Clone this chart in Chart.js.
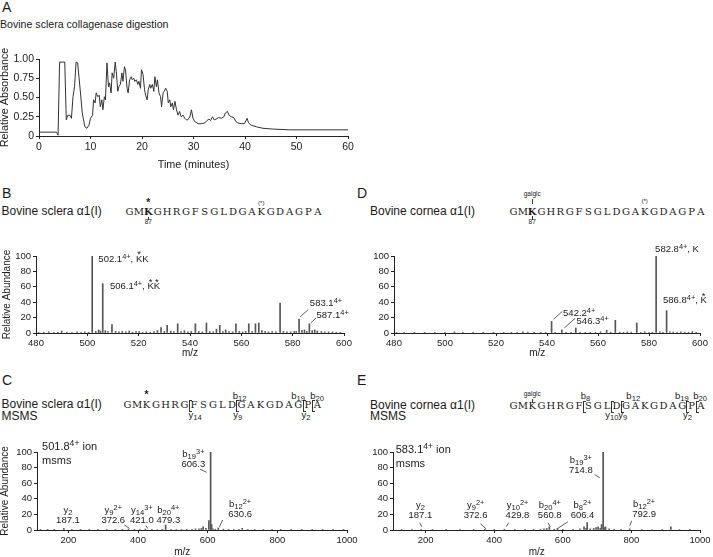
<!DOCTYPE html>
<html>
<head>
<meta charset="utf-8">
<script src="https://cdn.jsdelivr.net/npm/chart.js@4.4.1/dist/chart.umd.min.js"></script>
<style>
  body { margin: 0; width: 713px; height: 557px; position: relative; overflow: hidden; background: #fff;
         font-family: "Liberation Sans", Arial, sans-serif; color: #1a1a1a; }
  canvas { position: absolute; }
  .t { position: absolute; white-space: nowrap; line-height: 1; }
  .t sup { font-size: 0.78em; vertical-align: 0.42em; line-height: 0; }
  .t sub { font-size: 0.8em; vertical-align: -0.24em; line-height: 0; }
  .st { position: relative; display: inline-block; }
  .st::before { content: '*'; position: absolute; left: 0; right: 0; text-align: center; top: -0.45em; }
  .brk { position: absolute; width: 2px; border: 1px solid #333; border-right: none; }
  .tick { position: absolute; width: 0; border-left: 1px solid #333; }
</style>
</head>
<body>
<script>
// --- A: chromatogram (time in minutes, relative absorbance)
const timeMin = [0, 3.4, 3.7, 4.0, 5.0, 5.3, 5.6, 6.0, 6.3, 6.6, 6.9, 7.2, 7.5, 8.0, 8.4, 8.9, 9.3, 9.7,
  10.0, 10.4, 10.6, 10.9, 11.1, 11.4, 11.7, 11.9, 12.2, 12.4, 12.7, 12.9, 13.2, 13.5, 13.7, 14.0, 14.2,
  14.5, 14.8, 15.0, 15.3, 15.5, 15.8, 16.1, 16.3, 16.6, 16.8, 17.1, 17.3, 17.6, 17.9, 18.1, 18.4, 18.6,
  18.9, 19.2, 19.4, 19.7, 19.9, 20.2, 20.5, 20.7, 21.0, 21.2, 21.5, 21.7, 22.0, 22.3, 22.5, 22.8, 23.0,
  23.3, 23.6, 23.8, 24.1, 24.3, 24.6, 24.9, 25.1, 25.4, 25.6, 25.9, 26.1, 26.4, 26.7, 27.0, 27.3, 27.6,
  28.0, 28.3, 28.6, 28.9, 29.3, 29.6, 29.9, 30.2, 30.9, 31.5, 32.2, 32.6, 33.0, 33.3, 33.7, 34.0, 34.4,
  34.9, 35.4, 35.9, 36.2, 36.6, 36.9, 37.3, 37.8, 38.2, 38.6, 39.3, 39.9, 40.4, 40.7, 41.2, 42.2, 43.5,
  45.4, 48.7, 60];
const absorb = [0.05, 0.05, 0.01, 0.96, 0.96, 0.21, 0.27, 0.27, 0.23, 0.51, 0.64, 0.96, 0.95, 0.60, 0.30, 0.12, 0.10, 0.14,
  0.23, 0.27, 0.47, 0.43, 0.56, 0.51, 0.53, 0.38, 0.47, 0.34, 0.51, 0.47, 0.95, 0.64, 0.69, 0.56, 0.82,
  0.75, 0.96, 0.84, 0.58, 0.64, 0.67, 0.82, 0.71, 0.90, 0.86, 0.62, 0.56, 0.73, 0.77, 0.73, 0.75, 0.71,
  0.73, 0.67, 0.71, 0.62, 0.86, 0.80, 0.60, 0.53, 0.47, 0.60, 0.67, 0.62, 0.67, 0.58, 0.77, 0.64, 0.73,
  0.56, 0.51, 0.38, 0.56, 0.58, 0.62, 0.58, 0.43, 0.47, 0.38, 0.43, 0.34, 0.45, 0.34, 0.27, 0.32, 0.25,
  0.27, 0.23, 0.21, 0.21, 0.25, 0.34, 0.23, 0.19, 0.16, 0.16, 0.17, 0.20, 0.22, 0.20, 0.25, 0.21, 0.22,
  0.24, 0.23, 0.25, 0.30, 0.32, 0.27, 0.25, 0.24, 0.19, 0.17, 0.16, 0.16, 0.23, 0.17, 0.14, 0.12, 0.10,
  0.09, 0.08, 0.08];
const absTicks = [0, 0.25, 0.5, 0.75, 1];

// --- B: sclera MS spectrum
const bMz = [481, 483, 485, 487, 488.5, 490, 492, 494, 496, 497.5, 499, 500.5, 501.9, 503.3, 504.4, 505.1, 506.0, 507,
  508, 509.6, 511, 512.3, 513.6, 515, 516.3, 517.6, 519, 520.2, 521.5, 523, 524.5, 526, 527.3, 528.7, 530,
  531.1, 532.5, 533.7, 535.2, 536.5, 537.8, 539.2, 540.5, 542.1, 543.4, 544.8, 546.4, 547.7, 549, 550.3,
  551.6, 552.8, 553.9, 555.2, 556.6, 557.9, 559.2, 560.5, 561.7, 562.9, 564.2, 565.5, 566.8, 568, 569.3,
  570.6, 572, 573.5, 575.1, 576.4, 577.8, 579.2, 580.6, 581.4, 582.5, 583.6, 584.6, 585.5, 586.5, 587.6,
  588.6, 589.6, 591.2, 592.5, 594, 595.5, 597, 598.5];
const bInt = [1, 1, 1.5, 1, 1, 2.5, 1, 1, 1.5, 1, 1.5, 1, 100, 2, 4, 2.5, 64, 3,
  2, 11, 2, 1.5, 2, 1.5, 2.5, 1, 2, 2, 1, 1.5, 1, 2, 3, 7, 2,
  10, 2.5, 2, 12, 2, 3, 1.5, 2, 12, 2, 1.5, 13, 2, 1.5, 5,
  10, 2, 4, 2, 1.5, 12, 2, 1.5, 2, 12, 2, 12, 13, 3, 2,
  1.5, 2, 1.5, 39, 2, 1.5, 1.5, 2, 2, 18, 3, 4, 2, 12, 3,
  4, 2.5, 2, 1.5, 1.5, 1.5, 1, 1];

// --- D: cornea MS spectrum
const dMz = [481, 484, 488, 492, 496, 500, 503.7, 507, 511, 515, 519, 523, 526, 528.3, 530.5, 532.5, 535, 537.5,
  539.5, 541.8, 543.2, 545.8, 547.5, 549.5, 551.3, 553, 555, 557, 559, 561, 563.4, 565, 566.8, 568.5,
  570, 571.5, 573, 575.2, 576.8, 578.3, 580, 581.3, 582.8, 584.3, 585.5, 586.9, 588.2, 589.5, 591,
  592.5, 594, 595.5, 597, 598.5];
const dInt = [0.5, 0.5, 0.5, 0.5, 0.5, 1, 1.5, 0.5, 0.5, 0.5, 0.5, 0.5, 0.5, 1, 1.5, 1.2, 1, 0.8,
  0.8, 15, 1, 4, 1, 0.8, 6.5, 1, 0.8, 1, 1, 1.5, 3.5, 1, 16.5, 1,
  1, 1.5, 1.2, 13, 1, 1.5, 1, 1, 100, 1.5, 1, 29, 1.5, 1.2, 1,
  1.5, 1.2, 1, 2, 1];

// --- C: sclera MSMS of 501.8 (4+)
const cMz = [120, 140, 160, 187.1, 210, 235, 260, 285, 310, 335, 355, 372.6, 390, 405, 421, 440, 455, 470,
  479.3, 495, 510, 525, 540, 555, 565, 575, 582, 587, 595, 603.5, 608.5, 611.5, 615, 622, 630.6, 645,
  660, 675, 690, 699, 715, 735, 760, 785, 810, 840, 870, 900, 930, 960, 990];
const cInt = [0.5, 0.5, 0.5, 2, 0.5, 0.5, 0.5, 0.5, 0.5, 0.5, 0.5, 1, 0.5, 0.5, 1.2, 0.5, 0.6, 0.8,
  6.5, 0.8, 0.6, 0.6, 0.8, 1, 1.5, 1.5, 2, 4, 2, 12, 100, 7, 1.5, 1, 2.5, 1,
  0.8, 0.6, 0.8, 2, 0.6, 0.5, 0.5, 0.5, 0.5, 0.5, 0.5, 0.5, 0.5, 0.5, 0.5];

// --- E: cornea MSMS of 583.1 (4+)
const eMz = [130, 160, 187.1, 220, 260, 300, 340, 372.6, 400, 429.8, 460, 490, 515, 535, 545, 553, 560.8, 575,
  584.5, 600, 630, 650, 662, 668, 671, 680, 690, 697, 703, 709, 713, 717.7, 721, 724.6, 735, 750,
  770, 795, 830, 860, 890, 915, 940, 970];
const eInt = [0.5, 0.5, 1, 0.5, 0.5, 0.5, 0.5, 1, 0.5, 1, 0.5, 0.8, 0.8, 1, 1.5, 2, 4, 1,
  2, 0.8, 1, 1.5, 4, 2, 9.5, 1.5, 2, 3, 4, 2, 7, 100, 3, 4, 1.5, 1,
  0.8, 1.5, 0.6, 0.6, 0.6, 4, 0.6, 0.5];

const abundTicks = [0, 20, 40, 60, 80, 100];

// peak labels: x = m/z, y = baseline of last line (abundance units)
const bLabels = [
  { x: 504.3, y: 92.6, lines: ['502.1<sup>4+</sup>, <span class="st">K</span>K'] },
  { x: 508.8, y: 57, lines: ['506.1<sup>4+</sup>, <span class="st">K</span><span class="st">K</span>'] },
  { x: 586.7, y: 34.8, lines: ['583.1<sup>4+</sup>'] },
  { x: 589.3, y: 19.6, lines: ['587.1<sup>4+</sup>'] }
];
const bLeaders = [[582.9, 21, 586.1, 30.5], [587.0, 13, 589.1, 19.5]];
const dLabels = [
  { x: 582.4, y: 104.8, lines: ['582.8<sup>4+</sup>, K'] },
  { x: 585.5, y: 38.3, lines: ['586.8<sup>4+</sup>, <span class="st">K</span>'] },
  { x: 546.3, y: 21.8, lines: ['542.2<sup>4+</sup>'] },
  { x: 551.6, y: 11.7, lines: ['546.3<sup>4+</sup>'] }
];
const dLeaders = [[542.6, 18, 546, 28], [546.8, 6.5, 551, 19]];
const cLabels = [
  { x: 199, y: 8.6, lines: ['y<sub>2</sub>', '187.1'], c: 1 },
  { x: 329, y: 8.6, lines: ['y<sub>9</sub><sup>2+</sup>', '372.6'], c: 1 },
  { x: 411, y: 8.6, lines: ['y<sub>14</sub><sup>3+</sup>', '421.0'], c: 1 },
  { x: 487, y: 8.6, lines: ['b<sub>20</sub><sup>4+</sup>', '479.3'], c: 1 },
  { x: 559, y: 80.7, lines: ['b<sub>19</sub><sup>3+</sup>', '606.3'], c: 1 },
  { x: 693, y: 16.3, lines: ['b<sub>12</sub><sup>2+</sup>', '630.6'], c: 1 }
];
const cLeaders = [[361, 6.4, 375.6, 2], [422.6, 5.5, 428, 2], [578, 78, 597, 74], [643, 12.9, 633.5, 3.5]];
const eLabels = [
  { x: 185, y: 15.7, lines: ['y<sub>2</sub>', '187.1'], c: 1 },
  { x: 346, y: 15.7, lines: ['y<sub>9</sub><sup>2+</sup>', '372.6'], c: 1 },
  { x: 468, y: 15.7, lines: ['y<sub>10</sub><sup>2+</sup>', '429.8'], c: 1 },
  { x: 562, y: 15.7, lines: ['b<sub>20</sub><sup>4+</sup>', '560.8'], c: 1 },
  { x: 657.5, y: 15.7, lines: ['b<sub>8</sub><sup>2+</sup>', '606.4'], c: 1 },
  { x: 652.6, y: 72.4, lines: ['b<sub>19</sub><sup>3+</sup>', '714.8'], c: 1 },
  { x: 837, y: 17, lines: ['b<sub>12</sub><sup>2+</sup>', '792.9'], c: 1 }
];
const eLeaders = [[183, 9.3, 189, 4.2], [360, 8, 376.5, 1.5], [442, 9.3, 435.5, 4.3], [557, 9.3, 563, 4.2],
  [615, 10.5, 585, 2], [693, 71, 708, 67], [800.5, 11.9, 795.6, 5.5]];

const residues = 'GMKGHRGFSGLDGAKGDAGPA'.split('');

const SANS = "'Liberation Sans', Arial, sans-serif";
const SERIF = "'DejaVu Serif', serif";
const INK = '#222';

function text(x, base, html, size, center, extra) {
  const el = document.createElement('div');
  el.className = 't';
  el.innerHTML = html;
  el.style.fontSize = size + 'px';
  el.style.left = x + 'px';
  el.style.top = (base - 0.846 * size) + 'px';
  if (center) el.style.transform = 'translateX(-50%)';
  Object.assign(el.style, extra || {});
  document.body.appendChild(el);
  return el;
}

function axis(o) {
  return {
    type: 'linear', min: o.min, max: o.max, offset: false,
    afterBuildTicks: o.vals ? s => { s.ticks = o.vals.map(v => ({ value: v })); } : undefined,
    ticks: { stepSize: o.step, autoSkip: false, maxRotation: 0, includeBounds: false, padding: 2,
             color: INK, font: { family: SANS, size: o.fs }, callback: o.fmt || (v => String(v)) },
    grid: { display: true, offset: false, drawOnChartArea: false, drawTicks: true, tickLength: 3, color: INK },
    border: { display: true, color: INK, width: 1 },
    title: o.title ? { display: true, text: o.title, color: INK, font: { family: SANS, size: o.ts, lineHeight: 1 },
                       padding: { top: o.tp || 0, bottom: o.tp || 0 } } : { display: false },
    afterFit: s => { if (o.w != null) s.width = o.w; if (o.h != null) s.height = o.h; }
  };
}

function leaders(lines) {
  return {
    id: 'leaders',
    afterDatasetsDraw(chart) {
      const { ctx, scales: { x, y } } = chart;
      ctx.save();
      ctx.strokeStyle = '#333';
      ctx.lineWidth = 0.8;
      lines.forEach(l => {
        ctx.beginPath();
        ctx.moveTo(x.getPixelForValue(l[0]), y.getPixelForValue(l[1]));
        ctx.lineTo(x.getPixelForValue(l[2]), y.getPixelForValue(l[3]));
        ctx.stroke();
      });
      ctx.restore();
    }
  };
}

function panel(box, type, data, xs, ys, pad, lines) {
  const c = document.createElement('canvas');
  c.width = box[2]; c.height = box[3];
  Object.assign(c.style, { left: box[0] + 'px', top: box[1] + 'px', width: box[2] + 'px', height: box[3] + 'px' });
  document.body.appendChild(c);
  return new Chart(c, {
    type: type,
    data: { datasets: [data] },
    options: {
      responsive: false, animation: false, devicePixelRatio: 1,
      layout: { padding: { left: 0, top: pad[0], right: pad[1], bottom: 0 } },
      plugins: { legend: { display: false }, tooltip: { enabled: false } },
      scales: { x: xs, y: ys }
    },
    plugins: lines ? [leaders(lines)] : []
  });
}

function sticks(mz, inten) {
  return { data: mz.map((m, i) => ({ x: m, y: inten[i] })), backgroundColor: '#555', borderWidth: 0,
           barThickness: 1, grouped: false };
}

function placeLabels(chart, specs, size, lh) {
  const L = parseFloat(chart.canvas.style.left), T = parseFloat(chart.canvas.style.top);
  specs.forEach(s => {
    const px = L + chart.scales.x.getPixelForValue(s.x), py = T + chart.scales.y.getPixelForValue(s.y);
    s.lines.forEach((h, i) => text(px, py - (s.lines.length - 1 - i) * lh, h, size, s.c));
  });
}

// sequence header with fragment marks
function sequence(x0, base, cw, o) {
  const cx = i => x0 + (i + 0.5) * cw;
  residues.forEach((r, i) => text(cx(i), base, r, 10, true,
    { fontFamily: SERIF, fontWeight: o.bold === i ? 'bold' : 'normal' }));
  (o.stars || []).forEach(i => text(cx(i), base - 9.5, '*', 10, true, { fontWeight: 'bold' }));
  if (o.paren != null) text(cx(o.paren), base - o.parenOff, '(*)', 6, true);
  if (o.galglc != null) {
    text(cx(o.galglc), base - o.gal[0], 'galglc', 6.5, true);
    const t = document.createElement('div');
    t.className = 'tick';
    Object.assign(t.style, { left: cx(o.galglc) + 'px', top: (base - o.gal[1]) + 'px', height: o.gal[2] + 'px' });
    document.body.appendChild(t);
  }
  if (o.num != null) {
    const t = document.createElement('div');
    t.className = 'tick';
    Object.assign(t.style, { left: cx(o.num) + 'px', top: (base + 1) + 'px', height: '3.5px' });
    document.body.appendChild(t);
    text(cx(o.num), base + 9, '87', 6.5, true);
  }
  (o.cuts || []).forEach(k => {
    const b = document.createElement('div');
    b.className = 'brk';
    Object.assign(b.style, { left: (x0 + k * cw - 0.5) + 'px', top: (base - 8.5) + 'px', height: '10px' });
    document.body.appendChild(b);
  });
  (o.frags || []).forEach(f => {
    const x = x0 + f[0] * cw + f[3];
    text(x, f[1] === 'b' ? base - 9.5 : base + 9.5, f[1] + '<sub>' + f[2] + '</sub>', 9.5, true);
  });
}

// x title shifted left (trailing spaces) in C, D and E as in the figure
const MZ_LEFT = 'm/z       ';

// ---------- panel A
text(2, 11.7, 'A', 14);
text(0, 28.3, 'Bovine sclera collagenase digestion', 10.6);
panel([0, 45, 360, 126], 'line',
  { data: timeMin.map((t, i) => ({ x: t, y: absorb[i] })), borderColor: '#333', borderWidth: 1,
    pointRadius: 0, tension: 0, fill: false },
  axis({ min: 0, max: 60, step: 10, fs: 10.5, h: 35, title: 'Time (minutes)', ts: 10.8, tp: 0.6 }),
  axis({ min: 0, max: 1, vals: absTicks, fs: 10.5, w: 39, title: 'Relative Absorbance', ts: 10.8, tp: 0,
         fmt: v => v === 0 ? '0' : v.toFixed(2) }),
  [14, 12]);

// ---------- panel B
text(2, 198, 'B', 14);
text(1.5, 215.5, 'Bovine sclera α1(I)', 12);
sequence(124.7, 215.5, 9.42, { bold: 2, stars: [2], paren: 14, parenOff: 10, num: 2 });
const chB = panel([0, 240, 360, 119], 'bar', sticks(bMz, bInt),
  axis({ min: 480, max: 600, step: 20, fs: 9.5, h: 26, title: 'm/z', ts: 10, tp: 1 }),
  axis({ min: 0, max: 100, vals: abundTicks, fs: 9.5, w: 36, title: 'Relative Abundance', ts: 10, tp: 2.5 }),
  [16, 16], bLeaders);
placeLabels(chB, bLabels, 9.5, 10);

// ---------- panel D
text(357, 198, 'D', 14);
text(370, 215, 'Bovine cornea α1(I)', 12);
sequence(508.8, 215, 9.37, { bold: 2, paren: 14, parenOff: 12, galglc: 2, gal: [19, 16.5, 5], num: 2 });
const chD = panel([358, 240, 355, 119], 'bar', sticks(dMz, dInt),
  axis({ min: 480, max: 600, step: 20, fs: 9.5, h: 26, title: MZ_LEFT, ts: 10, tp: 1 }),
  axis({ min: 0, max: 100, vals: abundTicks, fs: 9.5, w: 36 }),
  [16, 13], dLeaders);
placeLabels(chD, dLabels, 9.5, 10);

// ---------- panel C
text(2, 385, 'C', 14);
text(1.5, 408.3, 'Bovine sclera α1(I)', 12);
text(1.5, 420, 'MSMS', 12);
sequence(122.8, 408.3, 9.49, { stars: [2], cuts: [7, 12, 19, 20],
  frags: [[7, 'y', '14', 6], [12, 'b', '12', 3], [12, 'y', '9', 1], [19, 'b', '19', -5], [19, 'y', '2', 3], [20, 'b', '20', 4.5]] });
const chC = panel([0, 440, 360, 117], 'bar', sticks(cMz, cInt),
  axis({ min: 110, max: 1000, step: 200, fs: 9.5, h: 27, title: MZ_LEFT, ts: 10, tp: 0 }),
  axis({ min: 0, max: 100, vals: abundTicks, fs: 9.5, w: 37, title: 'Relative Abundance', ts: 10, tp: 0 }),
  [12, 13], cLeaders);
placeLabels(chC, cLabels, 9.5, 10);
placeLabels(chC, [{ x: 124.6, y: 83.7, lines: ['501.8<sup>4+</sup> ion', 'msms'] }], 11, 14);

// ---------- panel E
text(357, 385, 'E', 14);
text(370, 409, 'Bovine cornea α1(I)', 12);
text(370, 420, 'MSMS', 12);
sequence(508.8, 409, 9.37, { galglc: 2, gal: [13, 10.5, 4], cuts: [8, 11, 12, 19, 20],
  frags: [[8, 'b', '8', 1.7], [11, 'y', '10', 0], [12, 'b', '12', 12], [12, 'y', '9', 1.5], [19, 'b', '19', -5], [19, 'y', '2', 0.7], [20, 'b', '20', 4]] });
const chE = panel([357, 440, 356, 117], 'bar', sticks(eMz, eInt),
  axis({ min: 105, max: 1000, step: 200, fs: 9.5, h: 27, title: MZ_LEFT, ts: 10, tp: 0 }),
  axis({ min: 0, max: 100, vals: abundTicks, fs: 9.5, w: 36 }),
  [12, 13], eLeaders);
placeLabels(chE, eLabels, 9.5, 10);
placeLabels(chE, [{ x: 113, y: 80, lines: ['583.1<sup>4+</sup> ion', 'msms'] }], 11, 14);
</script>
</body>
</html>
